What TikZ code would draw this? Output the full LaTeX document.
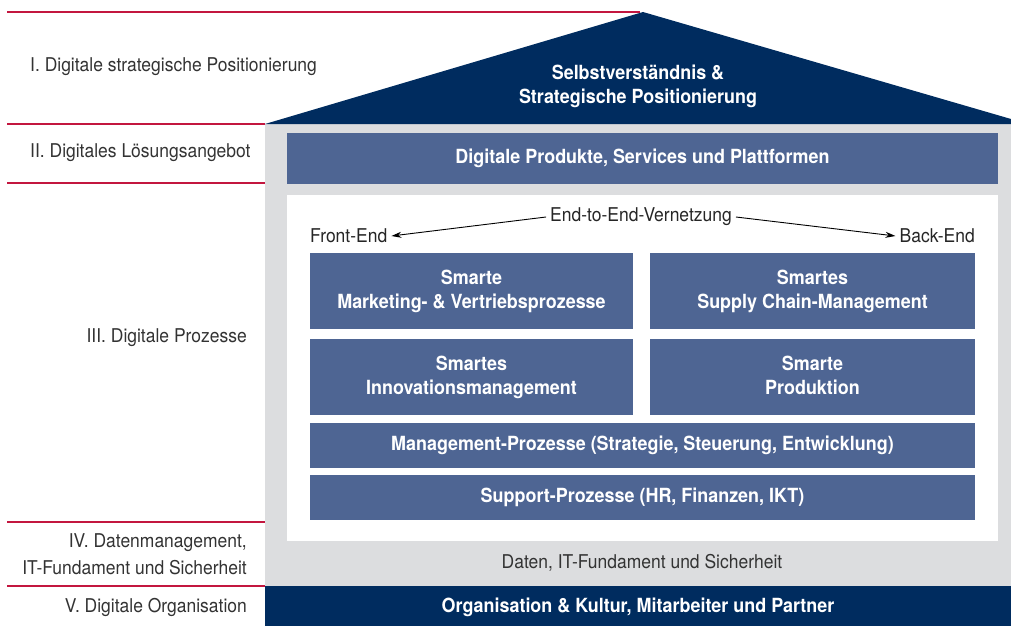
\documentclass[tikz,border=0pt]{standalone}
\usepackage{fontspec}
\setmainfont{TeX Gyre Heros}[FakeStretch=0.92]
\usetikzlibrary{arrows.meta}
\definecolor{navy}{HTML}{002C5F}
\definecolor{boxblue}{HTML}{4E6593}
\definecolor{lightgray}{HTML}{DCDDDF}
\definecolor{redline}{HTML}{C3163F}
\definecolor{labelgray}{HTML}{333333}
\tikzset{
  sep/.style={draw=redline, line width=1.2pt},
  lab/.style={text=labelgray, font=\fontsize{19}{23}\selectfont, inner sep=0pt},
  bluebox/.style={fill=boxblue, text=white, font=\bfseries\fontsize{19.5}{24}\selectfont, align=center, inner sep=0pt},
  small/.style={text=black!85, font=\fontsize{19}{23}\selectfont, inner sep=0pt},
  arr/.style={-{Stealth[length=10pt,width=6pt]}, line width=0.9pt}
}
\begin{document}
\begin{tikzpicture}[x=1pt,y=-1pt]
\useasboundingbox (0,0) rectangle (1011,626);
% separators
\draw[sep] (7,12) -- (640,12);
\draw[sep] (7,124) -- (265,124);
\draw[sep] (7,183) -- (265,183);
\draw[sep] (7,522) -- (265,522);
\draw[sep] (7,586) -- (265,586);
% body
\fill[lightgray] (265,124) rectangle (1011,586);
\fill[navy] (265,124) -- (643,12) -- (1011,119) -- (1011,124) -- cycle;
\fill[navy] (265,586) rectangle (1011,626);
\fill[white] (287,195) rectangle (998,541);
% roof text
\node[text=white, font=\bfseries\fontsize{19.5}{24}\selectfont, align=center, inner sep=0pt] (roof) at (638,86) {Selbstverständnis \&\\Strategische Positionierung};
% boxes
\node[bluebox, minimum width=711pt, minimum height=51pt] (dps) at (642.5,158.5) {Digitale Produkte, Services und Plattformen};
\node[bluebox, minimum width=323pt, minimum height=76pt] (mv) at (471.5,291) {Smarte\\Marketing- \& Vertriebsprozesse};
\node[bluebox, minimum width=325pt, minimum height=76pt] (scm) at (812.5,291) {Smartes\\Supply Chain-Management};
\node[bluebox, minimum width=323pt, minimum height=76pt] (inn) at (471.5,377) {Smartes\\Innovationsmanagement};
\node[bluebox, minimum width=325pt, minimum height=76pt] (prod) at (812.5,377) {Smarte\\Produktion\vphantom{g}};
\node[bluebox, minimum width=665pt, minimum height=45pt] (mgmt) at (642.5,445.5) {Management-Prozesse (Strategie, Steuerung, Entwicklung)};
\node[bluebox, minimum width=665pt, minimum height=45pt] (supp) at (642.5,497.5) {Support-Prozesse (HR, Finanzen, IKT)};
\node[text=white, font=\bfseries\fontsize{19.5}{24}\selectfont, inner sep=0pt] (org) at (638,607) {Organisation \& Kultur, Mitarbeiter und Partner};
\node[small, text=labelgray] (daten) at (642,563) {Daten, IT-Fundament und Sicherheit};
% end-to-end
\node[small, inner sep=4pt] (e2e) at (641,217) {End-to-End-Vernetzung};
\node[small, anchor=west, inner sep=4pt] (fe) at (306,236) {Front-End};
\node[small, anchor=east, inner sep=4pt] (be) at (979,236) {Back-End};
\draw[arr] (e2e.west) -- (fe.east);
\draw[arr] (e2e.east) -- (be.west);
% left labels
\node[lab, anchor=west] (l1) at (30,67) {I. Digitale strategische Positionierung};
\node[lab, anchor=west] (l2) at (30,153) {II. Digitales Lösungsangebot};
\node[lab, anchor=east] (l3) at (247,338) {III. Digitale Prozesse};
\node[lab, anchor=east, align=right, font=\fontsize{19}{27}\selectfont] (l4) at (247,554) {IV. Datenmanagement,\\IT-Fundament und Sicherheit};
\node[lab, anchor=east] (l5) at (247,607) {V. Digitale Organisation};
\end{tikzpicture}
\end{document}
